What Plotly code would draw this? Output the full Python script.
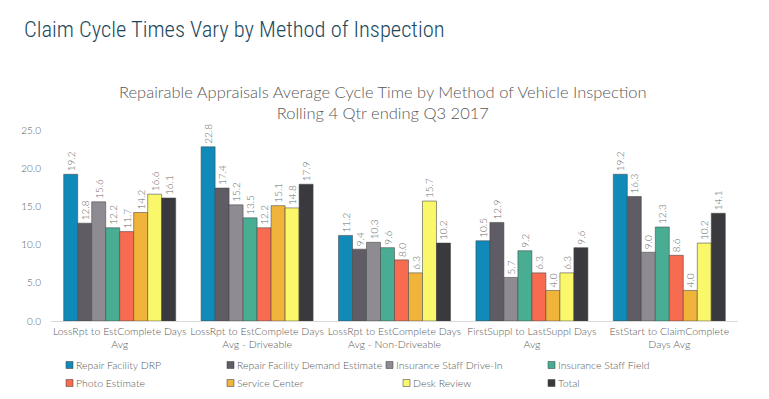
import plotly.graph_objects as go

categories = [
    "LossRpt to EstComplete Days<br>Avg",
    "LossRpt to EstComplete Days<br>Avg - Driveable",
    "LossRpt to EstComplete Days<br>Avg - Non-Driveable",
    "FirstSuppl to LastSuppl Days<br>Avg",
    "EstStart to ClaimComplete<br>Days Avg",
]

series_names = [
    "Repair Facility DRP",
    "Repair Facility Demand Estimate",
    "Insurance Staff Drive-In",
    "Insurance Staff Field",
    "Photo Estimate",
    "Service Center",
    "Desk Review",
    "Total",
]

repair_facility_drp = [19.2, 22.8, 11.2, 10.5, 19.2]
repair_facility_demand = [12.8, 17.4, 9.4, 12.9, 16.3]
insurance_staff_drive_in = [15.6, 15.2, 10.3, 5.7, 9.0]
insurance_staff_field = [12.2, 13.5, 9.6, 9.2, 12.3]
photo_estimate = [11.7, 12.2, 8.0, 6.3, 8.6]
service_center = [14.2, 15.1, 6.3, 4.0, 4.0]
desk_review = [16.6, 14.8, 15.7, 6.3, 10.2]
total = [16.1, 17.9, 10.2, 9.6, 14.1]

series_values = [
    repair_facility_drp, repair_facility_demand, insurance_staff_drive_in,
    insurance_staff_field, photo_estimate, service_center, desk_review, total,
]

colors = ["#0f8ab9", "#5f5c66", "#8e8b92", "#48ad93", "#f76b50", "#f0b43a", "#fbf76a", "#3a393e"]

y_ticks = [0, 5, 10, 15, 20, 25]

fig = go.Figure()
for name, vals, col in zip(series_names, series_values, colors):
    fig.add_trace(go.Bar(
        name=name, x=categories, y=vals,
        marker=dict(color=col, line=dict(color="rgba(70,70,70,0.7)", width=0.8)),
        text=[f"{v:.1f}" for v in vals],
        textposition="outside", textangle=-90,
        textfont=dict(size=10, color="#6b6b6b", weight=300),
        cliponaxis=False, showlegend=False,
    ))

font_family = "Lato, Open Sans, sans-serif"

# page has an 8px body margin; figure coords = page coords - 8
PLOT_L, PLOT_T, PLOT_W, PLOT_H = 51, 130, 687, 191


def px(page_x):
    return (page_x - PLOT_L) / PLOT_W


def py(page_y):
    return (PLOT_T + PLOT_H - page_y) / PLOT_H


fig.update_layout(
    width=761, height=391,
    barmode="group", bargap=0.185, bargroupgap=0,
    plot_bgcolor="white", paper_bgcolor="white",
    margin=dict(l=43, r=31, t=122, b=78, autoexpand=False),
    font=dict(family=font_family, color="#595959"),
    uniformtext=dict(minsize=10, mode="show"),
    xaxis=dict(
        showline=True, linecolor="#d9d9d9", linewidth=1,
        ticks="", tickangle=0, automargin=False,
        tickfont=dict(size=10.5, color="#595959", weight=300),
    ),
    yaxis=dict(
        range=[0, 25], tickvals=y_ticks, tickformat=".1f",
        showgrid=False, zeroline=False, showline=False, automargin=False,
        ticklabelstandoff=9,
        tickfont=dict(size=10, color="#595959", weight=300),
    ),
    showlegend=False,
)

# legend drawn as small squares + text (Excel-style legend)
legend_pos = [
    (66, 365), (227, 365), (386, 365), (548, 365),
    (66, 383), (227, 383), (403, 383), (548, 383),
]
for name, col, (lx, ly) in zip(series_names, colors, legend_pos):
    fig.add_shape(
        type="rect", xref="paper", yref="paper",
        x0=px(lx), x1=px(lx + 7), y0=py(ly + 3.5), y1=py(ly - 3.5),
        fillcolor=col, line=dict(color="rgba(70,70,70,0.7)", width=0.8),
    )
    fig.add_annotation(
        text=name, xref="paper", yref="paper", x=px(lx + 8), y=py(ly),
        xanchor="left", yanchor="middle", showarrow=False,
        font=dict(size=10.5, color="#595959", weight=300),
    )

fig.add_annotation(
    text="Claim Cycle Times Vary by Method of Inspection",
    xref="paper", yref="paper", x=px(22), y=py(29),
    xanchor="left", yanchor="middle", showarrow=False,
    font=dict(size=22.5, color="#1b4a5c", family="Roboto Condensed, DejaVu Sans Condensed, Lato, sans-serif",
              weight=300),
)
fig.add_annotation(
    text="Repairable Appraisals Average Cycle Time by Method of Vehicle Inspection<br>Rolling 4 Qtr ending Q3 2017",
    xref="paper", yref="paper", x=px(383), y=py(102),
    xanchor="center", yanchor="middle", showarrow=False,
    font=dict(size=16.5, color="#595959", family=font_family, weight=300),
)

fig.write_html("out.html")
